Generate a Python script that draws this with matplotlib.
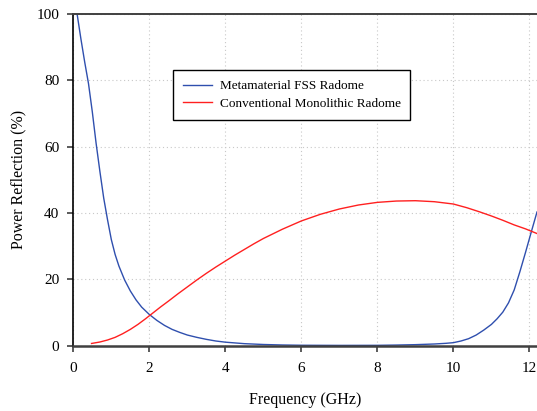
import matplotlib
matplotlib.use('Agg')
import matplotlib.pyplot as plt

# Frequency (GHz) / reflection (%)
freq_fss = [0.05, 0.1, 0.2, 0.3, 0.4, 0.5, 0.6, 0.7, 0.8, 0.9, 1.0, 1.1, 1.2,
            1.35, 1.5, 1.65, 1.8, 2.0, 2.2, 2.4, 2.6, 2.8, 3.0, 3.25, 3.5, 3.75,
            4.0, 4.5, 5.0, 5.5, 6.0, 7.0, 8.0, 8.5, 9.0, 9.5, 9.8, 10.0, 10.2,
            10.4, 10.6, 10.8, 11.0, 11.15, 11.3, 11.45, 11.6, 11.75, 11.9,
            12.05, 12.2]
refl_fss = [104, 100, 92.5, 85.5, 79, 70.5, 61, 52.5, 44.5, 38, 32, 27.5, 24,
            19.8, 16.5, 13.8, 11.6, 9.4, 7.6, 6.1, 4.9, 4.0, 3.2, 2.5, 1.9, 1.4,
            1.05, 0.6, 0.35, 0.2, 0.12, 0.08, 0.1, 0.18, 0.3, 0.5, 0.7, 0.9, 1.4,
            2.1, 3.2, 4.7, 6.4, 8.1, 10.1, 12.9, 16.8, 22.3, 28.2,
            34.3, 40.3]

freq_mono = [0.48, 0.7, 0.9, 1.1, 1.3, 1.5, 1.7, 1.9, 2.1, 2.3, 2.5, 2.75, 3.0,
             3.25, 3.5, 3.75, 4.0, 4.25, 4.5, 4.75, 5.0, 5.5, 6.0, 6.5, 7.0, 7.5,
             8.0, 8.5, 9.0, 9.5, 10.0, 10.35, 10.7, 11.0, 11.3, 11.6, 11.9, 12.2]
refl_mono = [0.66, 1.1, 1.7, 2.5, 3.6, 4.9, 6.4, 8.1, 9.9, 11.7, 13.4, 15.6, 17.7,
             19.8, 21.8, 23.7, 25.5, 27.3, 29.0, 30.7, 32.3, 35.1, 37.6, 39.6, 41.2, 42.4,
             43.2, 43.6, 43.7, 43.4, 42.7, 41.6, 40.3, 39.1, 37.8, 36.4, 35.2, 33.8]

plt.rcParams['font.family'] = 'Liberation Serif'

fig = plt.figure(figsize=(5.37, 4.11), dpi=100)
ax = fig.add_axes([0.1365, 0.159, 0.8635, 0.807])

ax.plot(freq_fss, refl_fss, color='#2f4fae', linewidth=1.0, label='Metamaterial FSS Radome')
ax.plot(freq_mono, refl_mono, color='#ff2020', linewidth=1.0, label='Conventional Monolithic Radome')

ax.set_xlim(0, 12.2)
ax.set_ylim(0, 100)
ax.set_xticks([0, 2, 4, 6, 8, 10, 12])
ax.set_yticks([0, 20, 40, 60, 80, 100])
ax.grid(True, linestyle=(0, (1, 2.5)), color='#c8c8c8', linewidth=0.8)

ax.spines['right'].set_visible(False)
ax.spines['left'].set_color('black')
ax.spines['left'].set_linewidth(1.2)
ax.spines['top'].set_color('#404040')
ax.spines['bottom'].set_color('#404040')
ax.spines['top'].set_linewidth(1.4)
ax.spines['bottom'].set_linewidth(1.8)
ax.tick_params(direction='out', length=4, width=1.2, color='#404040', labelsize=11,
               top=False, right=False)
ax.tick_params(axis='x', pad=8)
ax.tick_params(axis='y', pad=6)

ax.set_xlabel('Frequency (GHz)', fontsize=11.5, labelpad=12)
ax.set_ylabel('Power Reflection (%)', fontsize=11.5, labelpad=7)

leg = ax.legend(loc='upper left', bbox_to_anchor=(0.2144, 0.831), borderaxespad=0,
                fontsize=9.5, handlelength=2.2, handletextpad=0.6,
                labelspacing=0.4, borderpad=0.75, fancybox=False, edgecolor='black',
                framealpha=1)
leg.get_frame().set_linewidth(1.0)

plt.savefig('out.png', dpi=100)
